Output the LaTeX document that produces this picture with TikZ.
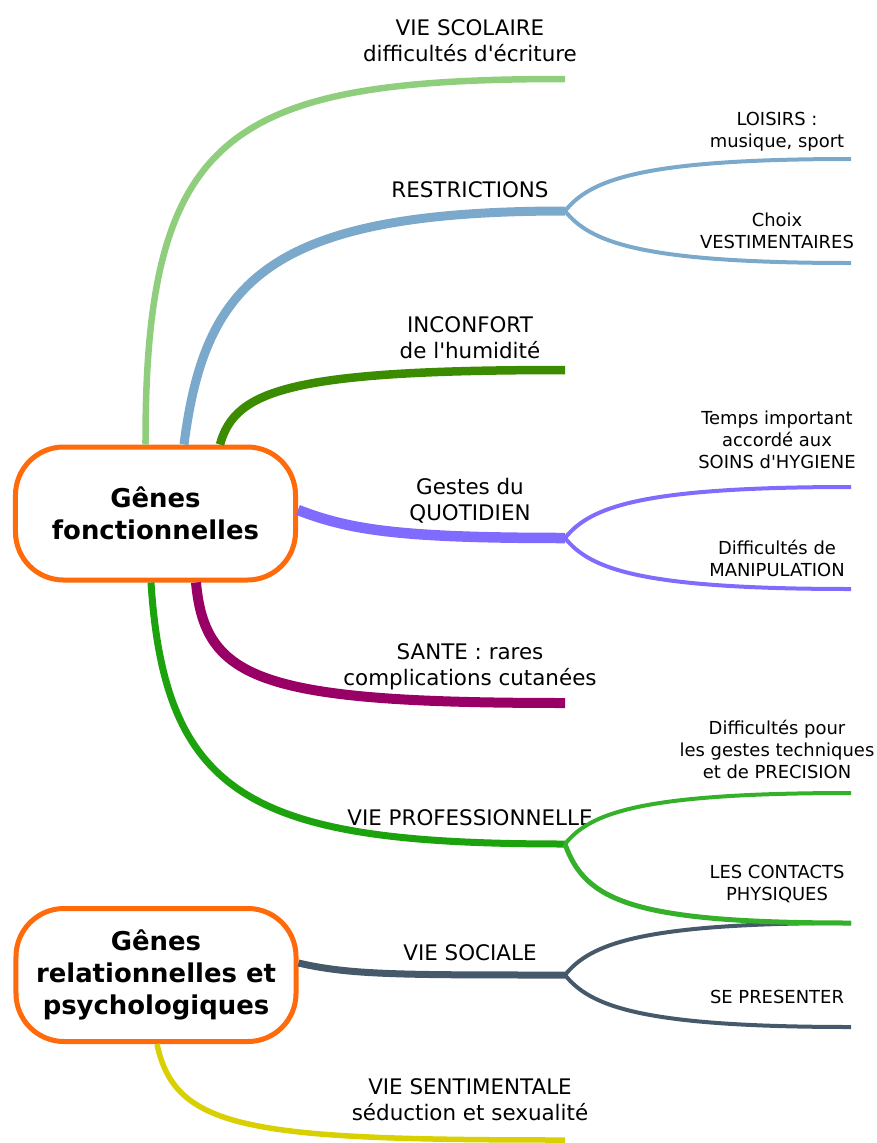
\documentclass[tikz,border=0pt]{standalone}
\usepackage{fontspec}
\setmainfont{DejaVu Sans}[Ligatures=TeXOff]
\definecolor{rootc}{HTML}{FF6A0A}
\definecolor{scolc}{HTML}{8FCE7D}
\definecolor{restrc}{HTML}{7BA9CB}
\definecolor{inconfc}{HTML}{3B8C00}
\definecolor{gestc}{HTML}{7F6CFF}
\definecolor{santec}{HTML}{990066}
\definecolor{profc}{HTML}{1CA20C}
\definecolor{precc}{HTML}{35B02B}
\definecolor{socc}{HTML}{45596B}
\definecolor{sentc}{HTML}{D8D000}
\begin{document}
\begin{tikzpicture}[x=1bp,y=-1bp,
  root/.style={draw=rootc,line width=5bp,rounded corners=48bp,fill=white,
    minimum width=280bp,minimum height=133bp,inner sep=0pt,align=center,
    font=\fontsize{26}{32}\selectfont\bfseries},
  lab/.style={align=center,anchor=base,inner sep=0pt,
    font=\fontsize{21.5}{25.5}\selectfont},
  sublab/.style={align=center,anchor=base,inner sep=0pt,
    font=\fontsize{18}{22}\selectfont},
  twig/.style={line width=4bp}]
  \useasboundingbox (0,0) rectangle (877,1143);
  % the two central topics
  \node[root]   (gf)    at (155.5,513.5) {Gênes\\fonctionnelles};
  \node[root]   (gr)    at (156,975)     {Gênes\\relationnelles et\\psychologiques};
  % first level labels (placed on the baseline of their last line)
  \node[lab]    (scol)  at (470,61)  {VIE SCOLAIRE\\difficultés d'écriture};
  \node[lab]    (restr) at (470,197) {RESTRICTIONS};
  \node[lab]    (inc)   at (470,358) {INCONFORT\\de l'humidité};
  \node[lab]    (gest)  at (470,520) {Gestes du\\QUOTIDIEN};
  \node[lab]    (sante) at (470,685) {SANTE : rares\\complications cutanées};
  \node[lab]    (prof)  at (470,825) {VIE PROFESSIONNELLE};
  \node[lab]    (soc)   at (470,960) {VIE SOCIALE};
  \node[lab]    (sent)  at (470,1120) {VIE SENTIMENTALE\\séduction et sexualité};
  % second level labels
  \node[sublab] (lois)  at (777,147) {LOISIRS :\\musique, sport};
  \node[sublab] (vest)  at (777,248) {Choix\\VESTIMENTAIRES};
  \node[sublab] (hyg)   at (777,468) {Temps important\\accordé aux\\SOINS d'HYGIENE};
  \node[sublab] (manip) at (777,576) {Difficultés de\\MANIPULATION};
  \node[sublab] (prec)  at (777,778) {Difficultés pour\\les gestes techniques\\et de PRECISION};
  \node[sublab] (cont)  at (777,900) {LES CONTACTS\\PHYSIQUES};
  \node[sublab] (pres)  at (777,1003) {SE PRESENTER};
  % ends of the branches
  \coordinate (scolE)  at (565,79);
  \coordinate (restrE) at (565,211);
  \coordinate (incE)   at (565,370);
  \coordinate (gestE)  at (565,538);
  \coordinate (santeE) at (565,703);
  \coordinate (profE)  at (565,844);
  \coordinate (socE)   at (565,975);
  \coordinate (sentE)  at (565,1140);
  \coordinate (loisE)  at (851,159);
  \coordinate (vestE)  at (851,263);
  \coordinate (hygE)   at (851,487);
  \coordinate (manipE) at (851,589);
  \coordinate (precE)  at (851,793);
  \coordinate (contE)  at (851,923);
  \coordinate (presE)  at (851,1027);
  % branches of the upper topic
  \draw[scolc,line width=6.5bp] ([xshift=-10bp]gf.north) .. controls (145,130) and (230,79) .. (scolE);
  \draw[restrc,line width=9bp] ([xshift=28.5bp]gf.north) .. controls (205,280) and (270,211) .. (restrE);
  \draw[restrc,twig] (restrE) .. controls (590,180) and (640,159) .. (loisE);
  \draw[restrc,twig] (restrE) .. controls (590,242) and (640,263) .. (vestE);
  \draw[inconfc,line width=8.5bp] ([xshift=64.5bp]gf.north) .. controls (235,390) and (290,370) .. (incE);
  \draw[gestc,line width=10.5bp] ([yshift=3.5bp]gf.east) .. controls (350,530) and (400,538) .. (gestE);
  \draw[gestc,twig] (gestE) .. controls (590,507) and (640,487) .. (hygE);
  \draw[gestc,twig] (gestE) .. controls (590,569) and (640,589) .. (manipE);
  \draw[santec,line width=10bp] ([xshift=40.5bp]gf.south) .. controls (205,680) and (260,703) .. (santeE);
  % branches of the lower topic
  \draw[socc,line width=7bp] ([yshift=12bp]gr.east) .. controls (350,975) and (400,975) .. (socE);
  \draw[socc,twig] (socE) .. controls (590,944) and (640,923) .. (contE);
  \draw[socc,twig] (socE) .. controls (590,1006) and (640,1027) .. (presE);
  \draw[sentc,line width=5.5bp] ([xshift=1bp]gr.south) .. controls (175,1130) and (250,1140) .. (sentE);
  \draw[profc,line width=7bp] ([xshift=-4.5bp]gf.south) .. controls (165,800) and (255,844) .. (profE);
  \draw[precc,twig] (profE) .. controls (590,813) and (640,793) .. (precE);
  \draw[precc,line width=5bp] (profE) .. controls (585,900) and (630,923) .. (contE);
\end{tikzpicture}
\end{document}
